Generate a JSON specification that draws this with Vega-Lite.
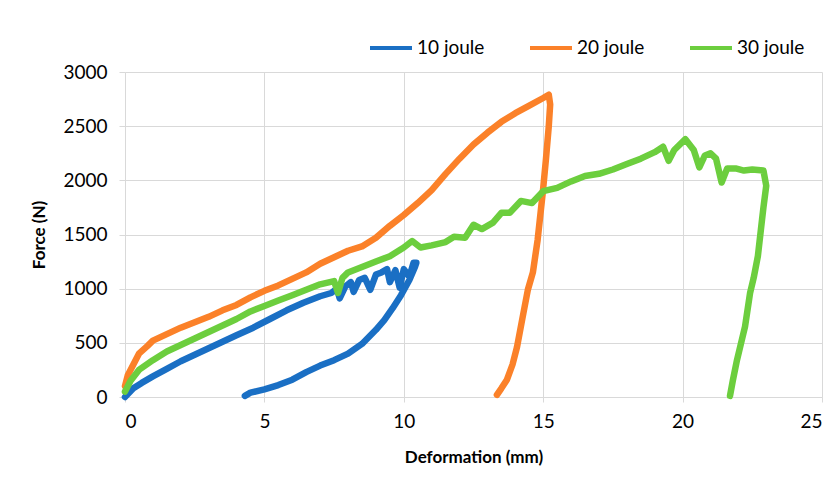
{
  "$schema": "https://vega.github.io/schema/vega-lite/v6.json",
  "width": 697,
  "height": 325,
  "autosize": {"type": "none"},
  "padding": {"left": 125, "top": 72, "right": 16, "bottom": 80},
  "background": "white",
  "config": {
    "font": "Lato",
    "view": {"stroke": null},
    "axis": {"gridColor": "#d9d9d9", "domainColor": "#d9d9d9", "tickColor": "#d9d9d9", "labelFont": "Lato", "titleFont": "Lato", "labelColor": "#000", "titleColor": "#000"}
  },
  "datasets": {
    "d": [
      {"s": "10 joule", "i": 1, "x": 0, "y": 0},
      {"s": "10 joule", "i": 2, "x": 0.3, "y": 80},
      {"s": "10 joule", "i": 3, "x": 0.6, "y": 130},
      {"s": "10 joule", "i": 4, "x": 1.0, "y": 190},
      {"s": "10 joule", "i": 5, "x": 1.5, "y": 260},
      {"s": "10 joule", "i": 6, "x": 2.0, "y": 330},
      {"s": "10 joule", "i": 7, "x": 2.5, "y": 390},
      {"s": "10 joule", "i": 8, "x": 3.0, "y": 450},
      {"s": "10 joule", "i": 9, "x": 3.5, "y": 510},
      {"s": "10 joule", "i": 10, "x": 4.0, "y": 570},
      {"s": "10 joule", "i": 11, "x": 4.6, "y": 640},
      {"s": "10 joule", "i": 12, "x": 5.2, "y": 720},
      {"s": "10 joule", "i": 13, "x": 5.8, "y": 800},
      {"s": "10 joule", "i": 14, "x": 6.4, "y": 870},
      {"s": "10 joule", "i": 15, "x": 7.0, "y": 930},
      {"s": "10 joule", "i": 16, "x": 7.4, "y": 960},
      {"s": "10 joule", "i": 17, "x": 7.6, "y": 1000},
      {"s": "10 joule", "i": 18, "x": 7.7, "y": 910},
      {"s": "10 joule", "i": 19, "x": 7.9, "y": 1020},
      {"s": "10 joule", "i": 20, "x": 8.1, "y": 1060},
      {"s": "10 joule", "i": 21, "x": 8.2, "y": 970},
      {"s": "10 joule", "i": 22, "x": 8.4, "y": 1080},
      {"s": "10 joule", "i": 23, "x": 8.6, "y": 1100},
      {"s": "10 joule", "i": 24, "x": 8.8, "y": 990},
      {"s": "10 joule", "i": 25, "x": 9.0, "y": 1130},
      {"s": "10 joule", "i": 26, "x": 9.2, "y": 1150},
      {"s": "10 joule", "i": 27, "x": 9.4, "y": 1180},
      {"s": "10 joule", "i": 28, "x": 9.5, "y": 1060},
      {"s": "10 joule", "i": 29, "x": 9.7, "y": 1170},
      {"s": "10 joule", "i": 30, "x": 9.85, "y": 1010},
      {"s": "10 joule", "i": 31, "x": 10.0, "y": 1180},
      {"s": "10 joule", "i": 32, "x": 10.2, "y": 1110},
      {"s": "10 joule", "i": 33, "x": 10.35, "y": 1240},
      {"s": "10 joule", "i": 34, "x": 10.45, "y": 1240},
      {"s": "10 joule", "i": 35, "x": 10.4, "y": 1200},
      {"s": "10 joule", "i": 36, "x": 10.2, "y": 1080},
      {"s": "10 joule", "i": 37, "x": 9.9, "y": 940},
      {"s": "10 joule", "i": 38, "x": 9.6, "y": 820},
      {"s": "10 joule", "i": 39, "x": 9.3, "y": 710},
      {"s": "10 joule", "i": 40, "x": 9.0, "y": 620},
      {"s": "10 joule", "i": 41, "x": 8.5, "y": 490},
      {"s": "10 joule", "i": 42, "x": 8.0, "y": 400},
      {"s": "10 joule", "i": 43, "x": 7.5, "y": 340},
      {"s": "10 joule", "i": 44, "x": 7.0, "y": 290},
      {"s": "10 joule", "i": 45, "x": 6.5, "y": 230},
      {"s": "10 joule", "i": 46, "x": 6.0, "y": 160},
      {"s": "10 joule", "i": 47, "x": 5.5, "y": 110},
      {"s": "10 joule", "i": 48, "x": 5.0, "y": 70},
      {"s": "10 joule", "i": 49, "x": 4.5, "y": 40},
      {"s": "10 joule", "i": 50, "x": 4.3, "y": 10},

      {"s": "20 joule", "i": 1, "x": 0, "y": 100},
      {"s": "20 joule", "i": 2, "x": 0.1, "y": 200},
      {"s": "20 joule", "i": 3, "x": 0.3, "y": 300},
      {"s": "20 joule", "i": 4, "x": 0.5, "y": 400},
      {"s": "20 joule", "i": 5, "x": 0.8, "y": 470},
      {"s": "20 joule", "i": 6, "x": 1.0, "y": 520},
      {"s": "20 joule", "i": 7, "x": 1.5, "y": 580},
      {"s": "20 joule", "i": 8, "x": 2.0, "y": 640},
      {"s": "20 joule", "i": 9, "x": 2.5, "y": 690},
      {"s": "20 joule", "i": 10, "x": 3.0, "y": 740},
      {"s": "20 joule", "i": 11, "x": 3.5, "y": 800},
      {"s": "20 joule", "i": 12, "x": 4.0, "y": 850},
      {"s": "20 joule", "i": 13, "x": 4.5, "y": 920},
      {"s": "20 joule", "i": 14, "x": 5.0, "y": 980},
      {"s": "20 joule", "i": 15, "x": 5.5, "y": 1030},
      {"s": "20 joule", "i": 16, "x": 6.0, "y": 1090},
      {"s": "20 joule", "i": 17, "x": 6.5, "y": 1150},
      {"s": "20 joule", "i": 18, "x": 7.0, "y": 1230},
      {"s": "20 joule", "i": 19, "x": 7.5, "y": 1290},
      {"s": "20 joule", "i": 20, "x": 8.0, "y": 1350},
      {"s": "20 joule", "i": 21, "x": 8.5, "y": 1390},
      {"s": "20 joule", "i": 22, "x": 9.0, "y": 1470},
      {"s": "20 joule", "i": 23, "x": 9.5, "y": 1580},
      {"s": "20 joule", "i": 24, "x": 10.0, "y": 1680},
      {"s": "20 joule", "i": 25, "x": 10.5, "y": 1790},
      {"s": "20 joule", "i": 26, "x": 11.0, "y": 1910},
      {"s": "20 joule", "i": 27, "x": 11.5, "y": 2060},
      {"s": "20 joule", "i": 28, "x": 12.0, "y": 2200},
      {"s": "20 joule", "i": 29, "x": 12.5, "y": 2330},
      {"s": "20 joule", "i": 30, "x": 13.0, "y": 2440},
      {"s": "20 joule", "i": 31, "x": 13.5, "y": 2540},
      {"s": "20 joule", "i": 32, "x": 14.0, "y": 2620},
      {"s": "20 joule", "i": 33, "x": 14.5, "y": 2690},
      {"s": "20 joule", "i": 34, "x": 15.0, "y": 2760},
      {"s": "20 joule", "i": 35, "x": 15.2, "y": 2790},
      {"s": "20 joule", "i": 36, "x": 15.25, "y": 2700},
      {"s": "20 joule", "i": 37, "x": 15.2, "y": 2500},
      {"s": "20 joule", "i": 38, "x": 15.1, "y": 2200},
      {"s": "20 joule", "i": 39, "x": 14.99, "y": 1900},
      {"s": "20 joule", "i": 40, "x": 14.8, "y": 1450},
      {"s": "20 joule", "i": 41, "x": 14.63, "y": 1150},
      {"s": "20 joule", "i": 42, "x": 14.45, "y": 990},
      {"s": "20 joule", "i": 43, "x": 14.25, "y": 720},
      {"s": "20 joule", "i": 44, "x": 14.06, "y": 460},
      {"s": "20 joule", "i": 45, "x": 13.9, "y": 300},
      {"s": "20 joule", "i": 46, "x": 13.7, "y": 160},
      {"s": "20 joule", "i": 47, "x": 13.5, "y": 80},
      {"s": "20 joule", "i": 48, "x": 13.34, "y": 20},

      {"s": "30 joule", "i": 1, "x": 0, "y": 50},
      {"s": "30 joule", "i": 2, "x": 0.2, "y": 150},
      {"s": "30 joule", "i": 3, "x": 0.5, "y": 250},
      {"s": "30 joule", "i": 4, "x": 1.0, "y": 340},
      {"s": "30 joule", "i": 5, "x": 1.5, "y": 420},
      {"s": "30 joule", "i": 6, "x": 2.0, "y": 480},
      {"s": "30 joule", "i": 7, "x": 2.5, "y": 540},
      {"s": "30 joule", "i": 8, "x": 3.0, "y": 600},
      {"s": "30 joule", "i": 9, "x": 3.5, "y": 660},
      {"s": "30 joule", "i": 10, "x": 4.0, "y": 720},
      {"s": "30 joule", "i": 11, "x": 4.5, "y": 790},
      {"s": "30 joule", "i": 12, "x": 5.0, "y": 840},
      {"s": "30 joule", "i": 13, "x": 5.5, "y": 890},
      {"s": "30 joule", "i": 14, "x": 6.0, "y": 940},
      {"s": "30 joule", "i": 15, "x": 6.5, "y": 990},
      {"s": "30 joule", "i": 16, "x": 7.0, "y": 1040},
      {"s": "30 joule", "i": 17, "x": 7.5, "y": 1070},
      {"s": "30 joule", "i": 18, "x": 7.64, "y": 960},
      {"s": "30 joule", "i": 19, "x": 7.8, "y": 1100},
      {"s": "30 joule", "i": 20, "x": 8.0, "y": 1150},
      {"s": "30 joule", "i": 21, "x": 8.5, "y": 1200},
      {"s": "30 joule", "i": 22, "x": 9.0, "y": 1250},
      {"s": "30 joule", "i": 23, "x": 9.5, "y": 1300},
      {"s": "30 joule", "i": 24, "x": 10.0, "y": 1380},
      {"s": "30 joule", "i": 25, "x": 10.3, "y": 1440},
      {"s": "30 joule", "i": 26, "x": 10.6, "y": 1380},
      {"s": "30 joule", "i": 27, "x": 11.0, "y": 1400},
      {"s": "30 joule", "i": 28, "x": 11.5, "y": 1430},
      {"s": "30 joule", "i": 29, "x": 11.8, "y": 1480},
      {"s": "30 joule", "i": 30, "x": 12.2, "y": 1470},
      {"s": "30 joule", "i": 31, "x": 12.5, "y": 1590},
      {"s": "30 joule", "i": 32, "x": 12.8, "y": 1550},
      {"s": "30 joule", "i": 33, "x": 13.2, "y": 1610},
      {"s": "30 joule", "i": 34, "x": 13.5, "y": 1700},
      {"s": "30 joule", "i": 35, "x": 13.8, "y": 1700},
      {"s": "30 joule", "i": 36, "x": 14.2, "y": 1810},
      {"s": "30 joule", "i": 37, "x": 14.6, "y": 1790},
      {"s": "30 joule", "i": 38, "x": 15.0, "y": 1900},
      {"s": "30 joule", "i": 39, "x": 15.5, "y": 1930},
      {"s": "30 joule", "i": 40, "x": 16.0, "y": 1990},
      {"s": "30 joule", "i": 41, "x": 16.5, "y": 2040},
      {"s": "30 joule", "i": 42, "x": 17.0, "y": 2060},
      {"s": "30 joule", "i": 43, "x": 17.5, "y": 2100},
      {"s": "30 joule", "i": 44, "x": 18.0, "y": 2150},
      {"s": "30 joule", "i": 45, "x": 18.5, "y": 2200},
      {"s": "30 joule", "i": 46, "x": 19.0, "y": 2260},
      {"s": "30 joule", "i": 47, "x": 19.3, "y": 2310},
      {"s": "30 joule", "i": 48, "x": 19.5, "y": 2180},
      {"s": "30 joule", "i": 49, "x": 19.7, "y": 2280},
      {"s": "30 joule", "i": 50, "x": 20.1, "y": 2380},
      {"s": "30 joule", "i": 51, "x": 20.4, "y": 2280},
      {"s": "30 joule", "i": 52, "x": 20.6, "y": 2120},
      {"s": "30 joule", "i": 53, "x": 20.8, "y": 2230},
      {"s": "30 joule", "i": 54, "x": 21.0, "y": 2250},
      {"s": "30 joule", "i": 55, "x": 21.2, "y": 2200},
      {"s": "30 joule", "i": 56, "x": 21.4, "y": 1980},
      {"s": "30 joule", "i": 57, "x": 21.6, "y": 2110},
      {"s": "30 joule", "i": 58, "x": 21.9, "y": 2110},
      {"s": "30 joule", "i": 59, "x": 22.2, "y": 2090},
      {"s": "30 joule", "i": 60, "x": 22.5, "y": 2100},
      {"s": "30 joule", "i": 61, "x": 22.9, "y": 2090},
      {"s": "30 joule", "i": 62, "x": 23.0, "y": 1950},
      {"s": "30 joule", "i": 63, "x": 22.9, "y": 1750},
      {"s": "30 joule", "i": 64, "x": 22.85, "y": 1640},
      {"s": "30 joule", "i": 65, "x": 22.7, "y": 1300},
      {"s": "30 joule", "i": 66, "x": 22.55, "y": 1100},
      {"s": "30 joule", "i": 67, "x": 22.42, "y": 960},
      {"s": "30 joule", "i": 68, "x": 22.24, "y": 650},
      {"s": "30 joule", "i": 69, "x": 22.1, "y": 500},
      {"s": "30 joule", "i": 70, "x": 21.95, "y": 340},
      {"s": "30 joule", "i": 71, "x": 21.8, "y": 150},
      {"s": "30 joule", "i": 72, "x": 21.7, "y": 10}
    ]
  },
  "data": {"name": "d"},
  "mark": {"type": "line", "strokeWidth": 6.5, "strokeJoin": "round", "strokeCap": "round"},
  "encoding": {
    "x": {
      "field": "x", "type": "quantitative",
      "scale": {"domain": [0, 25], "nice": false},
      "axis": {"values": [0, 5, 10, 15, 20, 25], "title": "Deformation (mm)", "labelFontSize": 19, "titleFontSize": 17, "titleFontWeight": "bold", "tickSize": 5, "labelPadding": 10, "titlePadding": 18, "grid": true, "domain": true}
    },
    "y": {
      "field": "y", "type": "quantitative",
      "scale": {"domain": [0, 3000], "nice": false},
      "axis": {"values": [0, 500, 1000, 1500, 2000, 2500, 3000], "format": "d", "title": "Force (N)", "labelFontSize": 19, "titleFontSize": 17, "titleFontWeight": "bold", "tickSize": 6, "labelPadding": 12, "titlePadding": 14, "grid": true, "domain": false}
    },
    "color": {
      "field": "s", "type": "nominal",
      "scale": {"domain": ["10 joule", "20 joule", "30 joule"], "range": ["#1a6fc4", "#fb8129", "#6cce3e"]},
      "legend": {"orient": "none", "legendX": 243, "legendY": -47, "direction": "horizontal", "title": null, "symbolType": "stroke", "symbolSize": 1764, "symbolStrokeWidth": 4, "labelFontSize": 19, "labelOffset": 3, "columnPadding": 37, "labelColor": "#000"}
    },
    "order": {"field": "i", "type": "quantitative"}
  }
}
